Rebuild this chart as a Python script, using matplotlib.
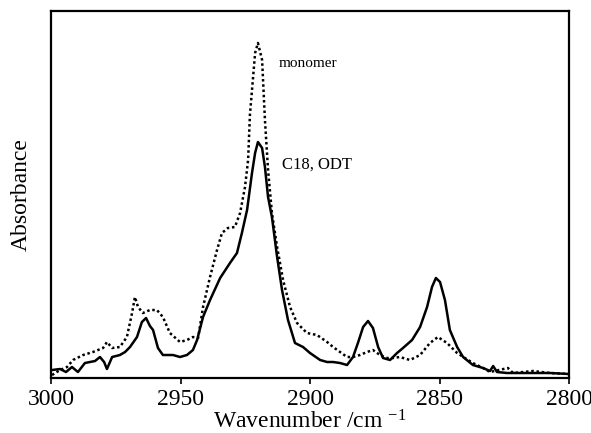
import matplotlib
matplotlib.use("Agg")
import matplotlib.pyplot as plt

plt.rcParams['font.family'] = ['Liberation Serif', 'DejaVu Serif']
plt.rcParams['mathtext.fontset'] = 'custom'
plt.rcParams['mathtext.rm'] = 'Liberation Serif'
plt.rcParams['mathtext.it'] = 'Liberation Serif:italic'
plt.rcParams['mathtext.bf'] = 'Liberation Serif:bold'

# C18, ODT (solid)
odt_wn = [2999.6, 2996.5, 2994.2, 2991.9, 2989.6, 2986.9, 2983.0, 2981.1, 2979.5, 2978.4,
          2976.4, 2973.4, 2971.4, 2969.5, 2966.8, 2964.9, 2963.3, 2961.8, 2960.6, 2958.7,
          2956.8, 2952.9, 2950.2, 2947.5, 2945.2, 2943.6, 2941.3, 2938.6, 2934.7, 2930.9,
          2928.2, 2926.3, 2924.3, 2922.4, 2921.2, 2920.1, 2918.5, 2917.4, 2916.2, 2914.7,
          2912.7, 2910.8, 2908.5, 2905.8, 2902.7, 2900.0, 2896.1, 2893.4, 2891.1, 2888.4,
          2885.7, 2883.4, 2881.5, 2879.5, 2877.6, 2875.7, 2873.7, 2871.8, 2869.1, 2866.4,
          2864.1, 2860.6, 2857.5, 2854.8, 2852.9, 2851.4, 2849.8, 2847.9, 2846.0, 2843.2,
          2840.9, 2837.1, 2833.2, 2830.5, 2829.3, 2827.8, 2823.9, 2820.1, 2813.9, 2807.3,
          2800.0]
odt_abs = [8, 9, 6, 11, 6, 15, 17, 21, 16, 9,
           21, 23, 26, 31, 41, 56, 60, 52, 48, 30,
           23, 23, 21, 23, 28, 38, 61, 78, 100, 115,
           125, 145, 168, 205, 225, 236, 230, 211, 181, 161,
           121, 88, 58, 35, 31, 25, 18, 16, 16, 15,
           13, 21, 35, 51, 57, 50, 31, 20, 18, 25,
           30, 38, 51, 71, 91, 100, 96, 78, 48, 31,
           21, 13, 10, 7, 12, 6, 5, 5, 5, 5,
           4]

# monomer (dotted)
mono_wn = [2999.6, 2996.5, 2993.8, 2991.5, 2987.6, 2983.8, 2979.9, 2978.4, 2976.4, 2973.4,
           2970.7, 2968.7, 2967.6, 2966.4, 2964.5, 2961.8, 2959.1, 2956.8, 2954.1, 2950.2,
           2947.5, 2945.2, 2943.2, 2941.3, 2938.6, 2935.9, 2934.0, 2931.7, 2929.0, 2927.0,
           2925.1, 2923.9, 2923.2, 2921.2, 2920.1, 2918.5, 2917.4, 2916.2, 2914.7, 2912.7,
           2910.4, 2907.7, 2905.0, 2901.2, 2897.3, 2893.4, 2891.1, 2888.4, 2885.7, 2883.4,
           2880.7, 2878.0, 2875.7, 2873.0, 2870.3, 2868.0, 2865.3, 2861.4, 2857.5, 2853.7,
           2850.6, 2847.1, 2843.2, 2840.2, 2837.1, 2833.2, 2830.5, 2823.6, 2821.6, 2813.9,
           2807.3, 2800.0]
mono_abs = [3, 8, 11, 18, 23, 26, 30, 36, 30, 31,
            41, 65, 81, 71, 65, 68, 68, 61, 45, 36,
            38, 41, 40, 71, 101, 128, 145, 150, 151, 165,
            191, 218, 263, 325, 335, 318, 258, 208, 165, 131,
            98, 71, 55, 45, 43, 36, 31, 26, 21, 21,
            23, 26, 28, 23, 20, 20, 21, 18, 23, 35,
            41, 35, 25, 20, 15, 10, 6, 10, 5, 7,
            5, 4]

xticks = [3000, 2950, 2900, 2850, 2800]
xticklabels = ['3000', '2950', '2900', '2850', '2800']

fig = plt.figure(figsize=(5.91, 4.33), dpi=100)
ax = fig.add_axes([0.0863, 0.127, 0.8765, 0.8476])

ax.plot(odt_wn, odt_abs, color='black', lw=1.8, ls='-')
ax.plot(mono_wn, mono_abs, color='black', lw=1.8, ls=(0, (1, 1.1)))

ax.set_xlim(3000, 2800)
ax.set_ylim(0, 367)
ax.set_xticks(xticks)
ax.set_xticklabels(xticklabels, fontsize=17)
ax.set_yticks([])
ax.tick_params(axis='x', direction='out', length=4, width=1.2, pad=4)
for s in ax.spines.values():
    s.set_linewidth(1.6)

ax.set_xlabel('Wavenumber /cm $^{-1}$', fontsize=17, labelpad=0)
ax.set_ylabel('Absorbance', fontsize=17, labelpad=14)

ax.text(2912, 314, 'monomer', fontsize=11, ha='left', va='center')
ax.text(2911, 213, 'C18, ODT', fontsize=12, ha='left', va='center')

fig.savefig('out.png', dpi=100)
